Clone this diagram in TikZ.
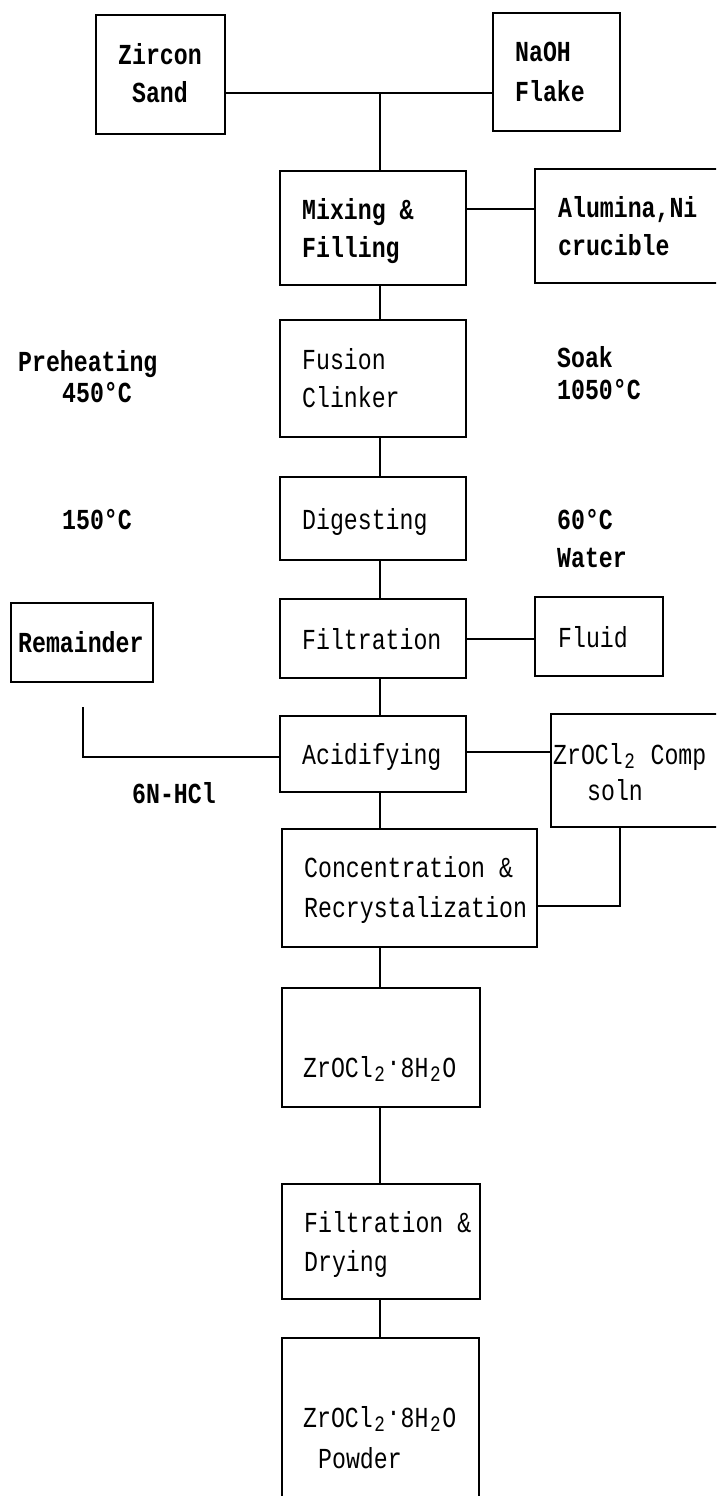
\documentclass[tikz,border=0pt]{standalone}
\usepackage{fontspec}
\newfontfamily\tw[FakeStretch=0.8]{Liberation Mono}
\newcommand{\lowtwo}{\makebox[13.9pt]{\raisebox{-4pt}{\fontsize{22}{22}\selectfont 2}}}
\newcommand{\hidot}{\makebox[13.9pt]{\raisebox{6pt}{\textperiodcentered}}}
\begin{document}
\begin{tikzpicture}[x=1pt,y=-1pt,
  box/.style={draw, line width=1.4pt, inner sep=0pt, outer sep=0pt},
  txt/.style={font=\tw\fontsize{29}{29}\selectfont, inner sep=0pt, anchor=base west},
  btxt/.style={txt, font=\tw\bfseries\fontsize{29}{29}\selectfont},
  conn/.style={line width=1.4pt}]
\useasboundingbox (0,0) rectangle (716,1496);
\clip (0,0) rectangle (716,1496);
% boxes
\node[box, minimum width=129pt, minimum height=119pt] (zircon) at (160.5,74.5) {};
\node[box, minimum width=127pt, minimum height=118pt] (naoh) at (556.5,72) {};
\node[box, minimum width=186pt, minimum height=114pt] (mix) at (373,228) {};
\node[box, minimum width=205pt, minimum height=114pt] (alumina) at (637.5,226) {};
\node[box, minimum width=186pt, minimum height=117pt] (fusion) at (373,378.5) {};
\node[box, minimum width=186pt, minimum height=83pt] (digest) at (373,518.5) {};
\node[box, minimum width=186pt, minimum height=79pt] (filt) at (373,638.5) {};
\node[box, minimum width=128pt, minimum height=79pt] (fluid) at (599,636.5) {};
\node[box, minimum width=142pt, minimum height=79pt] (remain) at (82,642.5) {};
\node[box, minimum width=186pt, minimum height=76pt] (acid) at (373,754) {};
\node[box, minimum width=189pt, minimum height=113pt] (comp) at (645.5,770.5) {};
\node[box, minimum width=255pt, minimum height=118pt] (conc) at (409.5,888) {};
\node[box, minimum width=198pt, minimum height=119pt] (zr) at (381,1047.5) {};
\node[box, minimum width=198pt, minimum height=115pt] (fd) at (381,1241.5) {};
\node[box, minimum width=197pt, minimum height=182pt] (powder) at (380.5,1429) {};
% box texts
\node[btxt, anchor=base] (tz1) at (160,65) {Zircon};
\node[btxt, anchor=base] (tz2) at (160,102) {Sand};
\node[btxt] (tn1) at (515,62) {NaOH};
\node[btxt] (tn2) at (515,101) {Flake};
\node[btxt] (tm1) at (302,219) {Mixing \&};
\node[btxt] (tm2) at (302,257) {Filling};
\node[btxt] (ta1) at (558,217) {Alumina,Ni};
\node[btxt] (ta2) at (558,255) {crucible};
\node[txt] (tf1) at (302,369) {Fusion};
\node[txt] (tf2) at (302,407) {Clinker};
\node[txt] (tdg) at (302,529) {Digesting};
\node[txt] (tfl) at (302,649) {Filtration};
\node[txt] (tfd) at (558,647) {Fluid};
\node[btxt] (trm) at (18,652) {Remainder};
\node[txt] (tac) at (302,764) {Acidifying};
\node[txt] (tc1) at (553,764) {ZrOCl\lowtwo{} Comp};
\node[txt] (tc2) at (587,800) {soln};
\node[txt] (tk1) at (304,877) {Concentration \&};
\node[txt] (tk2) at (304,917) {Recrystalization};
\node[txt] (tzr) at (303,1077) {ZrOCl\lowtwo\hidot 8H\lowtwo O};
\node[txt] (tfd1) at (304,1232) {Filtration \&};
\node[txt] (tfd2) at (304,1271) {Drying};
\node[txt] (tp1) at (303,1427) {ZrOCl\lowtwo\hidot 8H\lowtwo O};
\node[txt] (tp2) at (318,1468) {Powder};
% free labels
\node[btxt] (pre) at (18,371) {Preheating};
\node[btxt] (t450) at (62,402) {450°C};
\node[btxt] (soak) at (557,367) {Soak};
\node[btxt] (t1050) at (557,399) {1050°C};
\node[btxt] (t150) at (62,529) {150°C};
\node[btxt] (t60) at (557,529) {60°C};
\node[btxt] (water) at (557,567) {Water};
\node[btxt] (hcl) at (132,803) {6N-HCl};
% connector helpers
\coordinate (j1) at (380,93);
\coordinate (ya) at (0,209);
\coordinate (yf) at (0,639);
\coordinate (yac) at (0,752);
\coordinate (rl) at (83,707);
\coordinate (yr) at (0,757);
\coordinate (cx) at (620,906);
% connectors
\draw[conn] (zircon.east |- j1) -- (naoh.west |- j1);
\draw[conn] (j1) -- (j1 |- mix.north);
\draw[conn] (mix.east |- ya) -- (alumina.west |- ya);
\draw[conn] (j1 |- mix.south) -- (j1 |- fusion.north);
\draw[conn] (j1 |- fusion.south) -- (j1 |- digest.north);
\draw[conn] (j1 |- digest.south) -- (j1 |- filt.north);
\draw[conn] (filt.east |- yf) -- (fluid.west |- yf);
\draw[conn] (j1 |- filt.south) -- (j1 |- acid.north);
\draw[conn] (rl) -- (rl |- yr) -- (acid.west |- yr);
\draw[conn] (acid.east |- yac) -- (comp.west |- yac);
\draw[conn] (j1 |- acid.south) -- (j1 |- conc.north);
\draw[conn] (cx |- comp.south) -- (cx) -- (conc.east |- cx);
\draw[conn] (j1 |- conc.south) -- (j1 |- zr.north);
\draw[conn] (j1 |- zr.south) -- (j1 |- fd.north);
\draw[conn] (j1 |- fd.south) -- (j1 |- powder.north);
\end{tikzpicture}
\end{document}
